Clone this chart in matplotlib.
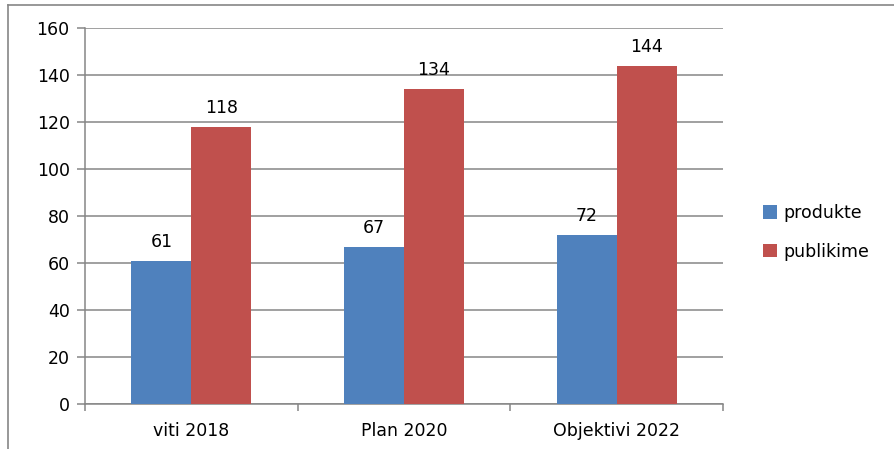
import numpy as np
import matplotlib.pyplot as plt
from matplotlib.lines import Line2D

categories = ["viti 2018", "Plan 2020", "Objektivi 2022"]
produkte = [61, 67, 72]
publikime = [118, 134, 144]
series_names = ["produkte", "publikime"]

blue = "#4f81bd"
red = "#c0504d"
grid_c = "#868686"
fs = 12.5

fig = plt.figure(figsize=(8.94, 4.49), dpi=100)
ax = fig.add_axes([85 / 894, 1 - 404 / 449, 638 / 894, 376 / 449])

x = np.arange(len(categories))
w = 0.282
b1 = ax.bar(x - w / 2, produkte, w, color=blue, label=series_names[0], zorder=3)
b2 = ax.bar(x + w / 2, publikime, w, color=red, label=series_names[1], zorder=3)
for bars, vals in ((b1, produkte), (b2, publikime)):
    for r, v in zip(bars, vals):
        ax.annotate(str(v), (r.get_x() + r.get_width() / 2, v), xytext=(0, 7),
                    textcoords="offset points", ha="center", va="bottom", fontsize=fs)

ax.set_xlim(-0.5, 2.5)
ax.set_ylim(0, 160)
ax.set_yticks(range(0, 161, 20))
ax.yaxis.grid(True, color=grid_c, lw=1.1, zorder=0)
ax.set_xticks(x)
ax.set_xticklabels(categories, fontsize=fs)
ax.tick_params(axis="x", length=0, pad=13)
ax.tick_params(axis="y", labelsize=fs, length=6, color=grid_c, width=1.1, pad=5)
ax.set_xticks([-0.5, 0.5, 1.5, 2.5], minor=True)
ax.tick_params(axis="x", which="minor", length=5, color=grid_c, width=1.1, direction="out")
for s in ["top", "right"]:
    ax.spines[s].set_visible(False)
for s in ["left", "bottom"]:
    ax.spines[s].set_color(grid_c)
    ax.spines[s].set_linewidth(1.1)

fig.legend(handles=[b1, b2], loc="upper left", bbox_to_anchor=(756 / 894, 1 - 197 / 449),
           frameon=False, fontsize=fs, handlelength=0.8, handleheight=0.8,
           handletextpad=0.4, labelspacing=1.2, borderaxespad=0)

# outer chart frame (only top and left visible)
fig.add_artist(Line2D([8 / 894, 1], [1 - 5 / 449, 1 - 5 / 449], color=grid_c, lw=1.2))
fig.add_artist(Line2D([8 / 894, 8 / 894], [0, 1 - 5 / 449], color=grid_c, lw=1.2))

fig.savefig("out.png", dpi=100)
